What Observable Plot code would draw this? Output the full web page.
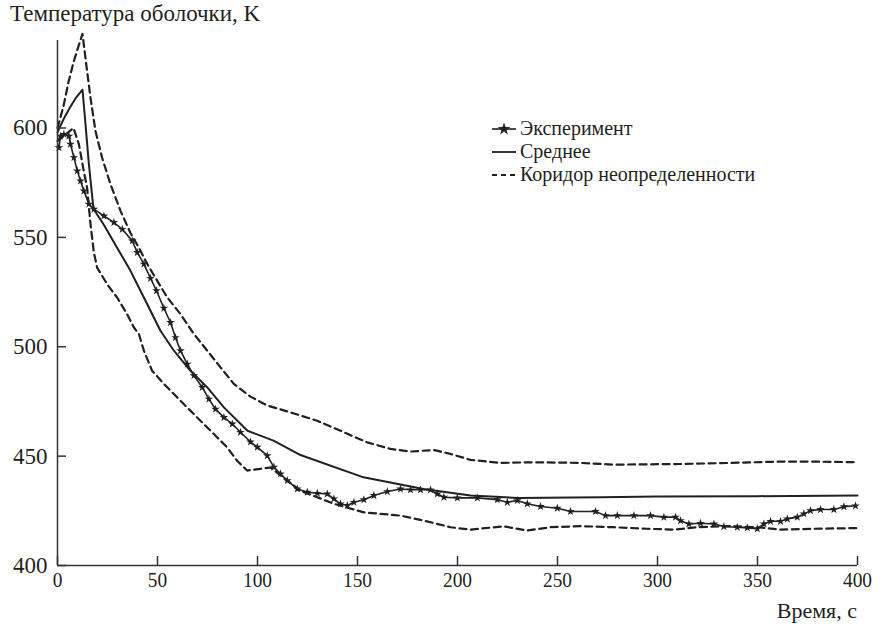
<!DOCTYPE html>
<html><head><meta charset="utf-8">
<script src="https://cdn.jsdelivr.net/npm/d3@7"></script>
<script src="https://cdn.jsdelivr.net/npm/@observablehq/plot@0.6"></script>
</head>
<body style="margin:0;background:#fff;">
<div id="wrap" style="position:relative;width:883px;height:630px;font-family:'Liberation Serif',serif;color:#231f20;">
<div id="chart" style="position:absolute;left:0;top:0;"></div>
<div id="title" style="position:absolute;left:10px;top:1px;font-size:23px;white-space:nowrap;font-family:'Liberation Serif',serif;">Температура оболочки, K</div>
<div id="xlabel" style="position:absolute;right:26px;top:598px;font-size:22px;white-space:nowrap;font-family:'Liberation Serif',serif;">Время, с</div>
<div id="legend" style="position:absolute;left:492px;top:117px;font-size:20px;line-height:23px;font-family:'Liberation Serif',serif;"></div>
</div>
<script>
// ---- data ----
const xTicks = [0, 50, 100, 150, 200, 250, 300, 350, 400];
const yTicks = [400, 450, 500, 550, 600];
const seriesNames = ["Эксперимент", "Среднее", "Коридор неопределенности"];

const expT = [0.7,1.5,3.2,5.7,6.5,8.2,9.9,11.5,13.2,15.7,18.2,23.2,28.2,32.4,37.4,39.9,43.2,46.5,49.5,53.2,56.5,59,61.5,64.9,68.2,72.4,75.7,79,83.2,87.4,91.5,96.5,99.9,104.9,108.2,111.5,114.9,119.9,124.9,129.9,134.9,138.2,141.5,144.9,148.2,153.2,158.2,164.9,171.5,176.5,181.5,186.5,189.9,193.2,199.9,209.9,219.9,224.9,229.9,234.9,241.5,249.9,256.5,269,274,279.9,288.2,296.5,303.2,309,311.5,315.7,321.5,328.2,333.2,339.9,344.9,349.9,353.2,356.5,361.5,364.9,369.9,373.2,376.5,381.5,388.2,393.2,399];
const expV = [591,596.3,597.1,596.3,592.6,586.5,580.4,575.8,571.2,565.2,562.9,559.8,556.8,553.7,548.4,543.1,537.8,531.3,525.6,517.6,511.1,504.2,498.2,492.1,486.8,481.4,476.1,471.5,467.7,464.7,460.9,456.5,454.1,450.2,445,441.9,438.8,435,433.5,433,432.7,430.5,428.2,427.4,428.9,430.1,432,433.8,435,434.6,434.6,434.6,432.7,431.2,430.9,430.9,430.1,428.9,429.7,428.2,427,426.2,424.7,424.7,422.8,422.8,422.8,422.8,422.1,422.1,420.5,419,419.3,419,417.8,417.5,417.2,416.8,419,420.2,420.2,421.3,422.1,423.6,425.1,425.6,425.6,426.9,427.3];

const meanT = [0,3,6,9,12.5,14,15.7,18,23,29.8,36.5,43.2,51.5,58.2,66.5,74.9,83.2,95,108,121.5,153,183,206.5,230,272,300,350,400];
const meanV = [598,604,609,613.5,617.5,601.7,583.4,563,556,545.3,534.7,522.5,507.3,498.2,489,481.4,472.3,461.6,457.1,450.5,440.3,435,432,430.9,431.2,431.5,431.7,432];

const upT = [0,3,5.5,8,10.7,12.5,14.8,16.5,19,22.3,26.5,31.5,36.5,40.7,44.9,49.9,54.9,61.5,68.2,74.9,81.5,88.2,96.5,105,116.5,129.8,143.2,154.8,166.5,176.5,188.2,196.5,206.5,221.5,238.2,261.5,278.2,311.5,336.5,361.5,378.2,400];
const upV = [600,610,621,630,638,643,626,613.8,598.6,586.4,574.3,562.1,552,545.3,537.8,530.1,522.5,514.9,505.8,498.2,490.6,483,477.2,473.1,470,466.2,460.9,456.3,453.3,452.1,452.8,451,448.3,446.9,447.2,446.9,446.1,446.4,446.9,447.5,447.5,447.2];

const lowT = [0,8,10.7,13.2,14.8,16.5,18.2,19.8,24.8,29.8,34.8,38.2,40.7,43.2,47.3,53.2,61.5,69.8,78.2,84.8,89.8,94.8,101.5,106.5,121.5,138.2,153.2,171.5,183.2,196.5,206.5,223.2,234.8,246.5,261.5,278,294.8,308.2,319.8,336.5,349.8,361.5,378.2,400];
const lowV = [594,600,592.6,580,572.7,556,543,536.2,528.6,522.5,514.9,508.8,505.8,498.2,489,483,475.3,467.7,460.1,454,447.9,443.4,444.2,444.8,434.2,428.2,424.3,422.8,420.5,417.5,416.4,417.9,416,417.5,418,417.5,416.8,416.4,417.5,418,417.5,416.4,416.8,417.1];

const toRows = (T, V) => T.map((t, i) => ({t, v: V[i]}));
const exp = toRows(expT, expV);
const mean = toRows(meanT, meanV);
const upper = toRows(upT, upV);
const lower = toRows(lowT, lowV);

const ink = "#231f20";
const axisInk = "#333";

const chart = Plot.plot({
  width: 883,
  height: 630,
  marginLeft: 57,
  marginRight: 26,
  marginTop: 40,
  marginBottom: 65,
  x: {domain: [0, 400]},
  y: {domain: [400, 640]},
  style: {fontFamily: "'Liberation Serif', serif", fontSize: "22px", color: ink, background: "#fff"},
  marks: [
    Plot.line(upper, {x: "t", y: "v", stroke: ink, strokeWidth: 2.2, strokeDasharray: "7,4.5"}),
    Plot.line(lower, {x: "t", y: "v", stroke: ink, strokeWidth: 2.2, strokeDasharray: "7,4.5"}),
    Plot.line(mean, {x: "t", y: "v", stroke: ink, strokeWidth: 2}),
    Plot.line(exp, {x: "t", y: "v", stroke: ink, strokeWidth: 1.6}),
    Plot.dot(exp, {x: "t", y: "v", symbol: "star", r: 2.7, fill: ink, stroke: "none"}),
    Plot.ruleX([0], {stroke: axisInk, strokeWidth: 1.5}),
    Plot.ruleY([400], {stroke: axisInk, strokeWidth: 1.5}),
    Plot.axisX({ticks: xTicks, tickSize: -9, tickPadding: 15, label: null, tickFormat: d => String(d), stroke: axisInk, strokeWidth: 1.5, fontFamily: "'Liberation Serif', serif"}),
    Plot.axisY({ticks: yTicks, tickSize: -9, tickPadding: 19, label: null, tickFormat: d => String(d), stroke: axisInk, strokeWidth: 1.5, fontSize: 23, fontFamily: "'Liberation Serif', serif"})
  ]
});
document.getElementById("chart").appendChild(chart);

// condense x tick labels a little, as in the reference
chart.querySelectorAll('g[aria-label="x-axis tick label"] text').forEach(el => {
  const tr = el.getAttribute("transform") || "";
  el.setAttribute("transform", tr + " scale(0.88,1)");
});

// legend
const legend = document.getElementById("legend");
const symbols = [
  `<svg width="24" height="12" style="margin-right:4px"><line x1="0" y1="6" x2="24" y2="6" stroke="${ink}" stroke-width="1.6"/><path transform="translate(12,6)" d="${d3.symbol(d3.symbolStar, 50)()}" fill="${ink}"/></svg>`,
  `<svg width="24" height="12" style="margin-right:4px"><line x1="0" y1="6" x2="24" y2="6" stroke="${ink}" stroke-width="1.8"/></svg>`,
  `<svg width="24" height="12" style="margin-right:4px"><line x1="0" y1="6" x2="24" y2="6" stroke="${ink}" stroke-width="1.8" stroke-dasharray="5,4"/></svg>`
];
seriesNames.forEach((name, i) => {
  const row = document.createElement("div");
  row.style.cssText = "display:flex;align-items:center;height:23px;white-space:nowrap;";
  row.innerHTML = symbols[i] + `<span>${name}</span>`;
  legend.appendChild(row);
});
</script>
</body></html>
